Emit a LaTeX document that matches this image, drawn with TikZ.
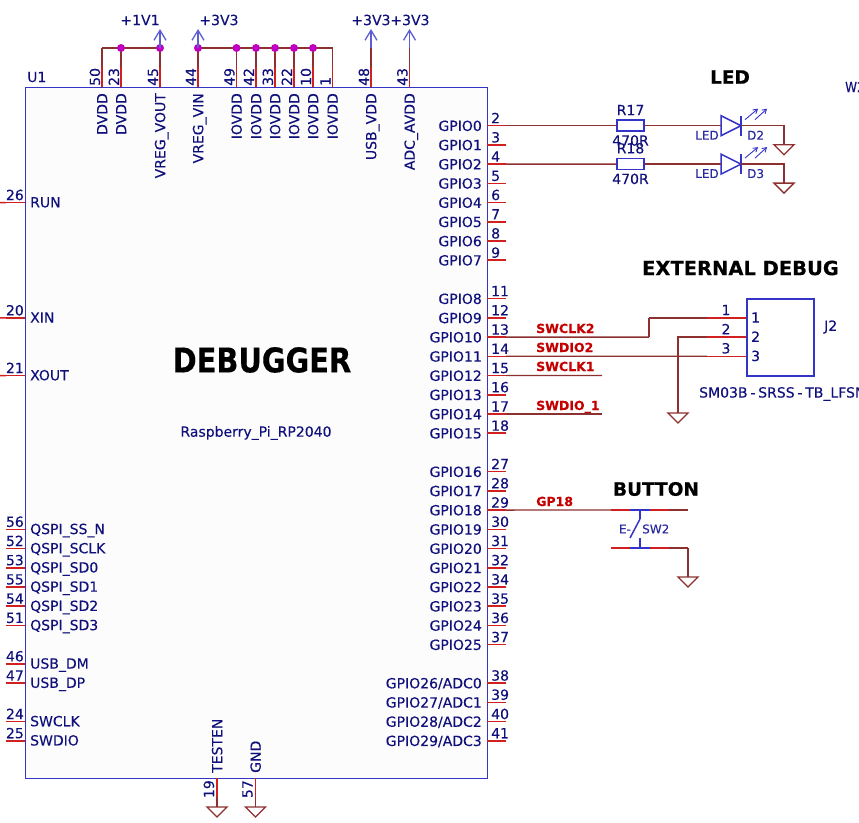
\documentclass[tikz,border=0pt]{standalone}
\usepackage{fontspec}
\setmainfont[FakeBold=0.25]{DejaVu Sans}
\usepackage{xcolor}
\usetikzlibrary{positioning,arrows.meta}
\definecolor{pinred}{HTML}{D02020}
\definecolor{wirered}{HTML}{8C3030}
\definecolor{symblue}{HTML}{3434C8}
\definecolor{txtblue}{HTML}{10107C}
\definecolor{lblred}{HTML}{C40000}
\definecolor{jctpink}{HTML}{C000C0}
\tikzset{
	wire/.style={draw=wirered,line width=1.3pt},
	pin line/.style={draw=pinred,line width=1.5pt},
	sym line/.style={draw=symblue,line width=1.5pt},
	pwr line/.style={draw=symblue!80,line width=1.3pt,-{Straight Barb[length=10pt,width=12pt]}},
	chip node/.style={rectangle,draw=symblue,line width=1.4pt,fill=black!1,inner sep=0pt},
	res node/.style={rectangle,draw=symblue,line width=1.6pt,fill=white,minimum width=27pt,minimum height=11pt,inner sep=0pt},
	conn node/.style={rectangle,draw=symblue,line width=1.6pt,fill=white,minimum width=67pt,minimum height=77pt,inner sep=0pt},
	jct node/.style={circle,fill=jctpink,minimum size=8pt,inner sep=0pt},
	txt node/.style={text=txtblue,font=\fontsize{14}{14}\selectfont,inner sep=0pt},
	small node/.style={text=symblue!80!black,font=\fontsize{12}{12}\selectfont,inner sep=0pt},
	net node/.style={text=lblred,font=\fontsize{12.5}{12.5}\selectfont\bfseries,inner sep=0pt,anchor=base west},
	title node/.style={text=black,font=\fontsize{18.5}{18.5}\selectfont\bfseries,inner sep=0pt},
	pics/gnd/.style={code={\draw[wire] (-10,0) -- (10,0) -- (0,10) -- cycle;}},
	pics/led/.style={code={
		\draw[sym line] (0,-10) -- (20,0) -- (0,10) -- cycle;
		\draw[sym line] (20,-10) -- (20,10);
		\draw[draw=symblue,line width=.9pt,-{Straight Barb[length=4pt,width=5pt]}] (24,-6) -- (37,-17);
		\draw[draw=symblue,line width=.9pt,-{Straight Barb[length=4pt,width=5pt]}] (34,-6) -- (46,-17);
	}},
}
\begin{document}
\begin{tikzpicture}[x=1pt,y=-1pt]
	\useasboundingbox (0,0) rectangle (859,822);
	\node[chip node,anchor=north west,minimum width=462pt,minimum height=691pt] (U1) at (25,87) {};
	\node[txt node,anchor=west] (refU1) at (27,77) {U1};
	\node[txt node,anchor=west] (refW2) at (845,87) {\scalebox{.85}[1]{W2}};
	\node[text=black,font=\fontsize{34}{34}\selectfont\bfseries,inner sep=0pt] (name) at (262,360) {\scalebox{.85}[1]{DEBUGGER}};
	\node[txt node] (part) at (256,433) {Raspberry\_Pi\_RP2040};

	% right pins
	\foreach \pnum/\plbl/\pidx in {2/GPIO0/0,3/GPIO1/1,4/GPIO2/2,5/GPIO3/3,6/GPIO4/4,7/GPIO5/5,8/GPIO6/6,9/GPIO7/7,
		11/GPIO8/9,12/GPIO9/10,13/GPIO10/11,14/GPIO11/12,15/GPIO12/13,16/GPIO13/14,17/GPIO14/15,18/GPIO15/16,
		27/GPIO16/18,28/GPIO17/19,29/GPIO18/20,30/GPIO19/21,31/GPIO20/22,32/GPIO21/23,34/GPIO22/24,35/GPIO23/25,36/GPIO24/26,37/GPIO25/27,
		38/{GPIO26/ADC0}/29,39/{GPIO27/ADC1}/30,40/{GPIO28/ADC2}/31,41/{GPIO29/ADC3}/32}{
		\pgfmathsetmacro\ypin{125.7+19.22*\pidx}
		\coordinate (a\pnum) at (487,\ypin);
		\coordinate (p\pnum) at (506,\ypin);
		\path[pin line] (a\pnum) edge (p\pnum);
		\node[txt node,anchor=base west] (n\pnum) at (491,\ypin-2.5) {\pnum};
		\node[txt node,anchor=mid east] (l\pnum) at (482,\ypin+2.5) {\plbl};
	}

	% left pins
	\foreach \pnum/\plbl/\pidx in {26/RUN/4,20/XIN/10,21/XOUT/13,56/QSPI\_SS\_N/21,52/QSPI\_SCLK/22,53/QSPI\_SD0/23,55/QSPI\_SD1/24,54/QSPI\_SD2/25,51/QSPI\_SD3/26,
		46/USB\_DM/28,47/USB\_DP/29,24/SWCLK/31,25/SWDIO/32}{
		\pgfmathsetmacro\ypin{125.7+19.22*\pidx}
		\coordinate (a\pnum) at (25,\ypin);
		\coordinate (p\pnum) at (6,\ypin);
		\path[pin line] (a\pnum) edge (p\pnum);
		\node[txt node,anchor=base east] (n\pnum) at (24,\ypin-2.5) {\pnum};
		\node[txt node,anchor=mid west] (l\pnum) at (30,\ypin+2) {\plbl};
	}
	\coordinate (w26) at (0,202.6);
	\coordinate (w20) at (0,317.9);
	\coordinate (w21) at (0,375.6);
	\path[pin line]
	(p26) edge (w26)
	(p20) edge (w20)
	(p21) edge (w21)
	;

	% top pins
	\foreach \pnum/\plbl/\xpin in {50/DVDD/102,23/DVDD/121,45/VREG\_VOUT/160,44/VREG\_VIN/198,49/IOVDD/236.5,42/IOVDD/256,33/IOVDD/275,22/IOVDD/294,10/IOVDD/313,1/IOVDD/332.5,48/USB\_VDD/371,43/ADC\_AVDD/409.5}{
		\coordinate (a\pnum) at (\xpin,87);
		\coordinate (p\pnum) at (\xpin,67);
		\coordinate (r\pnum) at (\xpin,48);
		\path[pin line] (a\pnum) edge (p\pnum);
		\path[wire] (p\pnum) edge (r\pnum);
		\node[txt node,anchor=base west,rotate=90] (n\pnum) at (\xpin-2,86) {\pnum};
		\node[txt node,anchor=mid east,rotate=90] (l\pnum) at (\xpin+2.5,93) {\plbl};
	}
	\path[wire]
	(r50) edge (r45)
	(r44) edge (r1)
	;
	\foreach \pnum in {23,45,44,49,42,33,22,10}{
		\node[jct node] (j\pnum) at (r\pnum) {};
	}

	% power flags
	\foreach \pnum/\xtxt/\plbl in {45/140/+1V1,44/219/+3V3,48/371/+3V3,43/410/+3V3}{
		\coordinate (t\pnum) at ([yshift=19pt]r\pnum);
		\draw[pwr line] (r\pnum) -- (t\pnum);
		\node[txt node] (f\pnum) at (\xtxt,20) {\plbl};
	}

	% bottom pins
	\coordinate (a19) at (217,778);
	\coordinate (p19) at (217,797);
	\coordinate (g19) at (217,807);
	\coordinate (a57) at (255.5,778);
	\coordinate (p57) at (255.5,797);
	\coordinate (g57) at (255.5,807);
	\node[txt node,anchor=base east,rotate=90] (n19) at (214,780) {19};
	\node[txt node,anchor=base east,rotate=90] (n57) at (252.5,780) {57};
	\node[txt node,anchor=mid west,rotate=90] (l19) at (219.5,773) {TESTEN};
	\node[txt node,anchor=mid west,rotate=90] (l57) at (258,773) {GND};
	\path[pin line]
	(a19) edge (p19)
	(a57) edge (p57)
	;
	\path[wire]
	(p19) edge (g19)
	(p57) edge (g57)
	;
	\pic (s19) at (g19) {gnd};
	\pic (s57) at (g57) {gnd};

	% led
	\node[title node] (ttlLed) at (730,77) {LED};
	\node[res node] (R17) at (630.5,125.7) {};
	\node[res node] (R18) at (630.5,164.1) {};
	\node[txt node] (ref17) [above = 4pt of R17] {R17};
	\node[txt node] (val17) [below = 3pt of R17] {470R};
	\node[txt node] (ref18) [above = 4pt of R18] {R18};
	\node[txt node] (val18) [below = 3pt of R18] {470R};
	\foreach \dnum/\ypin in {2/125.7,3/164.1}{
		\coordinate (D\dnum a) at (721,\ypin);
		\coordinate (D\dnum k) at (741,\ypin);
		\coordinate (G\dnum) at (784,\ypin+19);
		\pic (L\dnum) at (D\dnum a) {led};
		\path[wire] (D\dnum k) -| (G\dnum);
		\pic (S\dnum) at (G\dnum) {gnd};
		\node[small node] (v\dnum) at (707,\ypin+9.5) {LED};
		\node[small node,anchor=west] (d\dnum) at (747,\ypin+9.5) {D\dnum};
	}
	\path[wire]
	(p2) edge (R17)
	(p4) edge (R18)
	(R17) edge (D2a)
	(R18) edge (D3a)
	;

	% external debug
	\node[title node,font=\fontsize{19.5}{19.5}\selectfont\bfseries] (ttlDbg) at (740.5,268) {EXTERNAL DEBUG};
	\node[conn node,anchor=north west] (J2) at (746,298) {};
	\node[txt node,anchor=west] (refJ2) at (824,327) {J2};
	\node[txt node,anchor=west] (valJ2) at (699,394) {SM03B\kern2.8pt-\kern2.8pt SRSS\kern2.8pt-\kern2.8pt TB\_LFSN};
	\foreach \cnum/\ypin in {1/317.9,2/337.1,3/356.3}{
		\coordinate (c\cnum) at (746,\ypin);
		\coordinate (e\cnum) at (707,\ypin);
		\path[pin line] (e\cnum) edge (c\cnum);
		\node[txt node] (x\cnum) at (726,\ypin-8) {\cnum};
		\node[txt node,anchor=mid west] (y\cnum) at (751,\ypin+2) {\cnum};
	}
	\coordinate (k1) at (649,317.9);
	\coordinate (k2) at (649,337.1);
	\coordinate (G4) at (678,413);
	\coordinate (w15) at (602,375.5);
	\coordinate (w17) at (602,414);
	\path[wire]
	(p13) edge (k2)
	(k2) edge (k1)
	(k1) edge (e1)
	(p14) edge (e3)
	(p15) edge (w15)
	(p17) edge (w17)
	;
	\path[wire] (e2) -| (G4);
	\pic (S4) at (G4) {gnd};
	\node[net node] (net13) at (536,333) {SWCLK2};
	\node[net node] (net14) at (536,352) {SWDIO2};
	\node[net node] (net15) at (536,371) {SWCLK1};
	\node[net node] (net17) at (536,410) {SWDIO\_1};

	% button
	\node[title node] (ttlBtn) at (656,489) {BUTTON};
	\node[net node] (net29) at (536,506) {GP18};
	\coordinate (b1) at (611,510);
	\coordinate (b2) at (630,510);
	\coordinate (b3) at (650,510);
	\coordinate (b4) at (669,510);
	\coordinate (b5) at (640,510);
	\coordinate (b6) at (640,519);
	\coordinate (b7) at (630,538);
	\coordinate (b8) at (640,538);
	\coordinate (b9) at (640,548);
	\coordinate (c4) at (630,548);
	\coordinate (c5) at (650,548);
	\coordinate (c1) at (611,548);
	\coordinate (c6) at (669,548);
	\coordinate (c7) at (688,548);
	\coordinate (c8) at (688,510);
	\coordinate (G5) at (688,577);
	\path[wire]
	(p29) edge (b1)
	(b4) edge (c8)
	(c6) edge (c7)
	(c7) edge (G5)
	;
	\path[pin line]
	(b1) edge (b2)
	(b3) edge (b4)
	(c1) edge (c4)
	(c5) edge (c6)
	;
	\path[sym line]
	(b2) edge (b3)
	(c4) edge (c5)
	(b5) edge (b6)
	(b8) edge (b9)
	(b7) edge (b6)
	;
	\pic (S5) at (G5) {gnd};
	\node[small node] (esw) at (625,529) {E-};
	\node[small node,anchor=west] (refSW) at (642,529) {SW2};
\end{tikzpicture}
\end{document}
